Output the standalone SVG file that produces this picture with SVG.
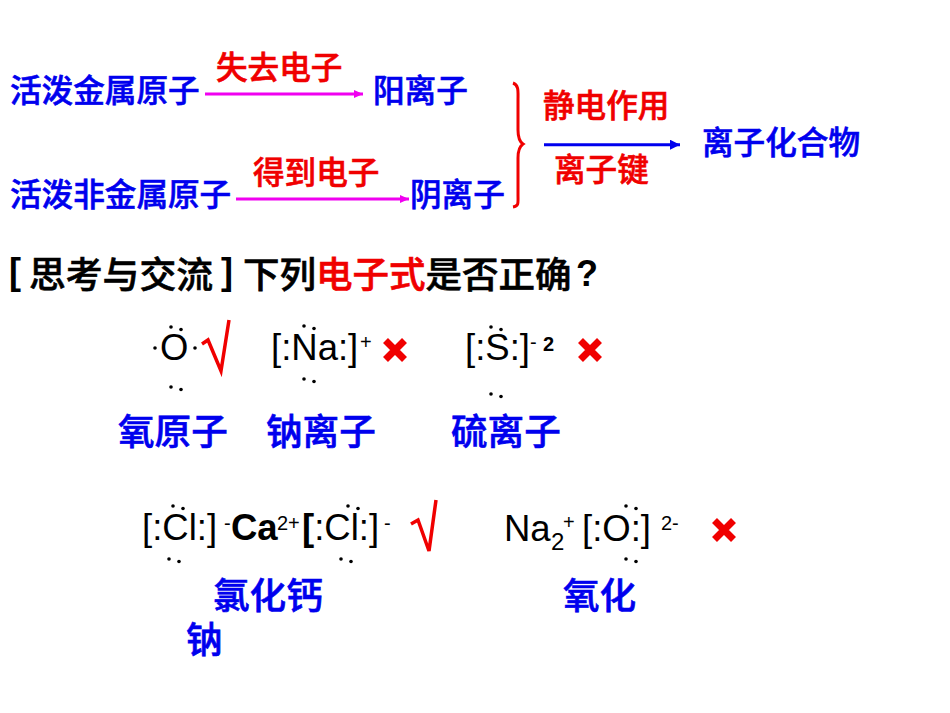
<svg xmlns="http://www.w3.org/2000/svg" width="950" height="713" viewBox="0 0 950 713">
<style>
.z{font-family:"Noto Sans CJK SC",sans-serif;font-weight:500;stroke-width:.6px}
.b{fill:#0000ee;stroke:#0000ee}
.r{fill:#f00000;stroke:#f00000}
.k{fill:#000;stroke:#000}
.s31{font-size:31.6px}
.s36{font-size:36.6px}
.l{font-family:"Liberation Sans",Arial,sans-serif;font-weight:700;font-size:36px;fill:#000}
.m{font-family:"Liberation Sans",Arial,sans-serif;font-size:36.500px;fill:#000}
.mb{font-weight:700}
.sup{font-family:"Liberation Sans",Arial,sans-serif;font-size:20px;fill:#000}
.chk{fill:none;stroke:#f00000;stroke-width:3.500px;stroke-linejoin:miter}
.x{stroke:#f00000;stroke-width:7px;fill:none}
.d{fill:#000}
</style>
<defs>
<marker id="am" markerWidth="9" markerHeight="8" refX="9" refY="4" orient="auto" markerUnits="userSpaceOnUse"><path d="M0 0L9 4L0 8z" fill="#f000f0"/></marker>
<marker id="ab" markerWidth="10" markerHeight="10" refX="10" refY="5" orient="auto" markerUnits="userSpaceOnUse"><path d="M0 0L10 5L0 10z" fill="#0000ee"/></marker>
<g id="dots"><circle cx="0" cy="0" r="1.800" class="d"/><circle cx="10" cy="2.500" r="1.800" class="d"/></g>
<g id="cross"><path d="M-9.500 -9.500L9.500 9.500M9.500 -9.500L-9.500 9.500" class="x"/></g>
</defs>
<rect width="950" height="713" fill="#fff"/>
<g id="connectors">
<path d="M205 94H363" stroke="#f000f0" stroke-width="3" fill="none" marker-end="url(#am)"/>
<path d="M236 199H409" stroke="#f000f0" stroke-width="3" fill="none" marker-end="url(#am)"/>
<path d="M544 144.700H680" stroke="#0000ee" stroke-width="3" fill="none" marker-end="url(#ab)"/>
<path d="M513 83C519 85 518 92 518 100V130C518 138 520 142 523 144C520 146 518 150 518 158V195C518 203 519 206 513 207" stroke="#f00000" stroke-width="3" fill="none"/>
</g>
<g id="n-reaction-top">
<text x="10" y="102" class="z b s31">活泼金属原子</text>
<text x="216" y="79" class="z r s31">失去电子</text>
<text x="373" y="102" class="z b s31">阳离子</text>
</g>
<g id="n-reaction-bottom">
<text x="10" y="206" class="z b s31">活泼非金属原子</text>
<text x="253" y="184" class="z r s31">得到电子</text>
<text x="410" y="206" class="z b s31">阴离子</text>
</g>
<g id="n-product">
<text x="543" y="117" class="z r s31">静电作用</text>
<text x="554" y="181" class="z r s31">离子键</text>
<text x="702" y="154" class="z b s31">离子化合物</text>
</g>
<g id="n-question">
<text x="9" y="284" class="l">[</text>
<text x="29" y="288" class="z k" style="font-size:36.800px">思考与交流</text>
<text x="221" y="284" class="l">]</text>
<text x="243" y="288" class="z k" style="font-size:36.500px">下列<tspan class="r">电子式</tspan>是否正确</text>
<text x="576" y="286" class="l">?</text>
</g>
<g id="n-oxygen">
<text x="160" y="360" class="m">O</text>
<circle cx="155" cy="348" r="1.800" class="d"/><circle cx="195" cy="348" r="1.800" class="d"/>
<use href="#dots" x="171" y="327"/><use href="#dots" x="171" y="387"/>
<path d="M202 344L208 340L221 371L229 320" class="chk"/>
<text x="118" y="445" class="z b s36">氧原子</text>
</g>
<g id="n-sodium">
<text x="271" y="360" class="m">[:Na:]</text>
<text x="360" y="349" class="sup">+</text>
<use href="#dots" x="304" y="326"/><use href="#dots" x="304" y="379"/>
<use href="#cross" x="395" y="350"/>
<text x="266" y="445" class="z b s36">钠离子</text>
</g>
<g id="n-sulfur">
<text x="465" y="360" class="m">[:S:]</text>
<text x="530" y="349" class="sup">-</text>
<text x="543" y="351" class="sup mb">2</text>
<use href="#dots" x="491" y="327"/><use href="#dots" x="491" y="394"/>
<use href="#cross" x="590" y="350"/>
<text x="451" y="445" class="z b s36">硫离子</text>
</g>
<g id="n-cacl2">
<text x="142" y="540" class="m">[:Cl:]</text>
<text x="224" y="530" class="sup">-</text>
<text x="231" y="540" class="m mb">Ca</text>
<text x="277" y="530" class="sup">2+</text>
<text x="302" y="540" class="m"><tspan class="mb">[</tspan>:Cl:]</text>
<text x="384" y="530" class="sup">-</text>
<use href="#dots" x="173" y="506"/><use href="#dots" x="348" y="506"/>
<use href="#dots" x="169" y="559"/><use href="#dots" x="341" y="559"/>
<path d="M411 524L418 520L429 551L436 500" class="chk"/>
<text x="213" y="609" class="z b s36">氯化钙</text>
<text x="186" y="653" class="z b s36">钠</text>
</g>
<g id="n-na2o">
<text x="504" y="541" class="m">Na</text>
<text x="551" y="550" class="m" style="font-size:24px">2</text>
<text x="563" y="529" class="sup">+</text>
<text x="582" y="541" class="m">[:O:]</text>
<text x="661" y="530" class="sup">2-</text>
<use href="#dots" x="626" y="506"/><use href="#dots" x="626" y="559"/>
<use href="#cross" x="724" y="530"/>
<text x="563" y="609" class="z b s36">氧化</text>
</g>
</svg>
